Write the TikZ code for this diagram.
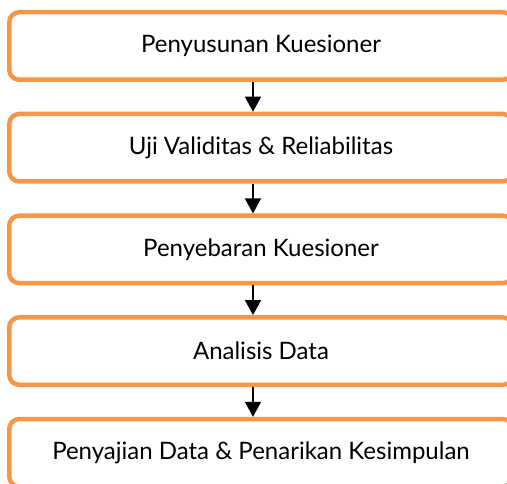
\documentclass[tikz,border=0pt]{standalone}
\usepackage{fontspec}
\setmainfont{Lato}
\usepackage{tikz}
\usetikzlibrary{arrows.meta, positioning}
\definecolor{boxorange}{HTML}{F79646}
\tikzstyle{stage}=[rectangle, draw=boxorange, line width=4.5pt, rounded corners=10pt, fill=white, minimum width=503.5pt, minimum height=67.5pt, font=\fontsize{24}{28}\selectfont]
\tikzstyle{flow}=[-{Triangle[width=16pt,length=15pt]}, line width=1.5pt, black]

\begin{document}
\begin{tikzpicture}[x=1pt, y=1pt, node distance=101.7pt]
        \useasboundingbox (0,0) rectangle (507,-484);
        \coordinate (axis) at (253,0);
        \node[stage] (s1) at (261,-46) {Penyusunan Kuesioner};
        \node[stage] (s2) [below of=s1] {Uji Validitas \& Reliabilitas};
        \node[stage] (s3) [below of=s2] {Penyebaran Kuesioner};
        \node[stage] (s4) [below of=s3] {Analisis Data};
        \node[stage] (s5) [below of=s4] {Penyajian Data \& Penarikan Kesimpulan};

        \draw[flow] (s1.south -| axis) -- (s2.north -| axis);
        \draw[flow] (s2.south -| axis) -- (s3.north -| axis);
        \draw[flow] (s3.south -| axis) -- (s4.north -| axis);
        \draw[flow] (s4.south -| axis) -- (s5.north -| axis);
      \end{tikzpicture}
\end{document}
